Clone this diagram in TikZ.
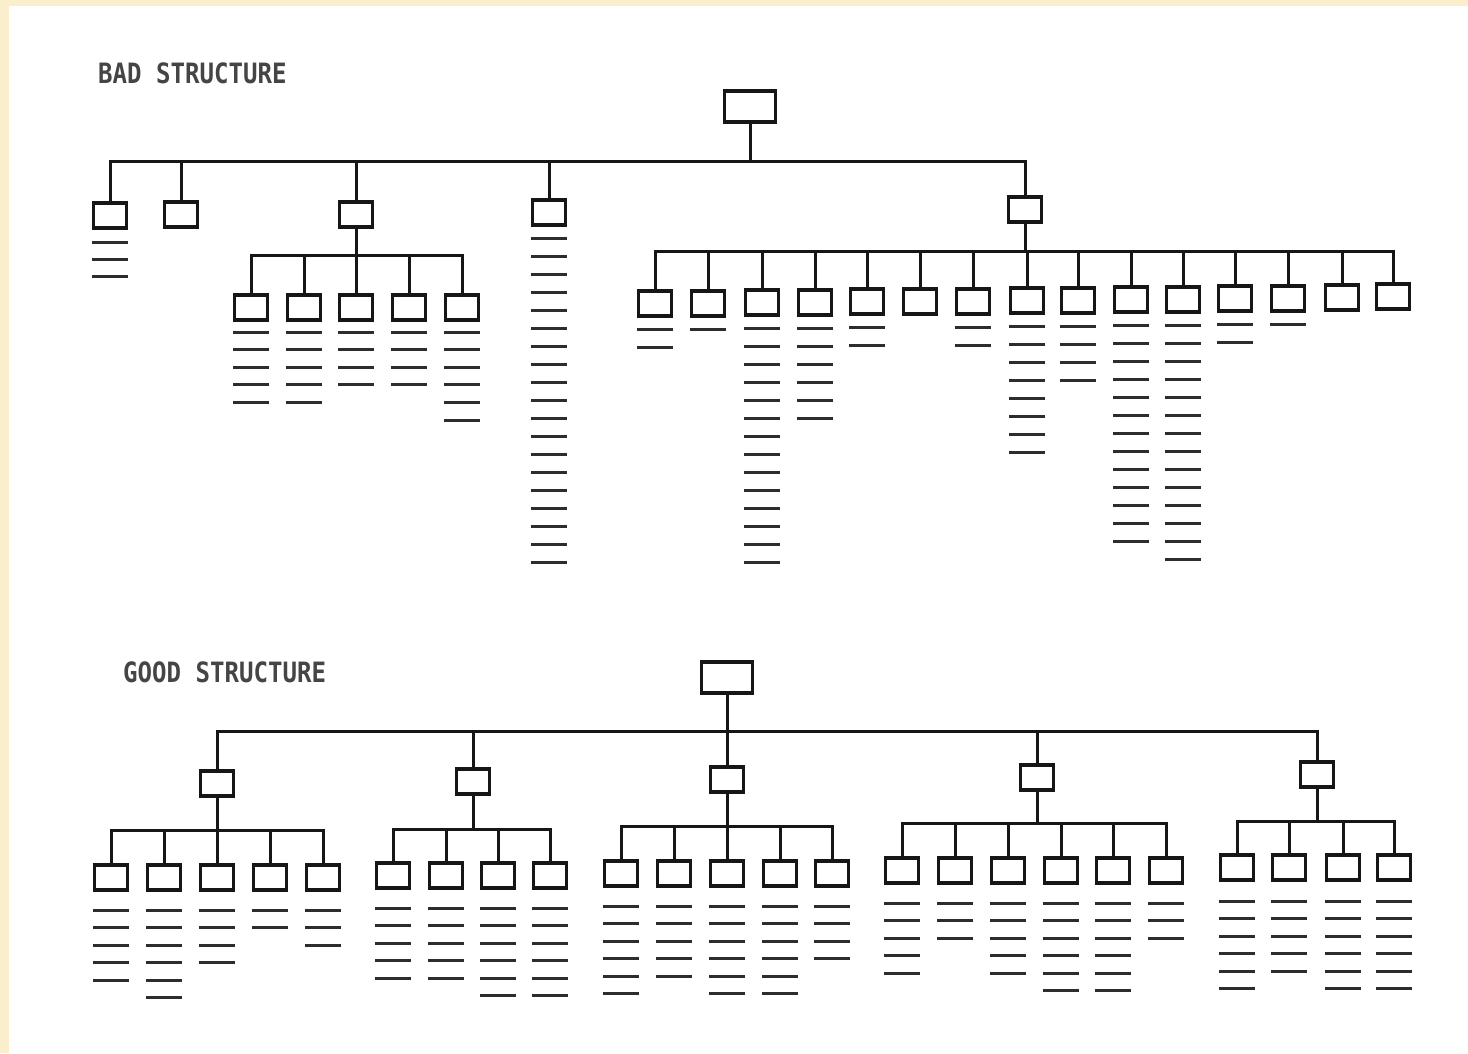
\documentclass[tikz,border=0pt]{standalone}
\usepackage{fontspec}
\setmonofont{DejaVu Sans Mono}
\definecolor{ink}{RGB}{22,22,22}
\definecolor{paperedge}{RGB}{250,238,205}
\newcommand\barstack[4]{%
  \ifnum#3>0 \foreach \k in {1,...,#3}{\draw[bar] ({#1-18},{#2+(\k-1)*#4}) -- ({#1+18},{#2+(\k-1)*#4});}\fi}
\begin{document}
\begin{tikzpicture}[x=1pt,y=-1pt,
  box/.style={draw=ink, line width=3.8pt, minimum width=33pt, minimum height=25pt, inner sep=0pt, outer sep=0pt, anchor=north},
  rootbox/.style={box, minimum width=51pt, minimum height=31pt},
  conn/.style={draw=ink, line width=3pt},
  bar/.style={draw=ink!90, line width=3pt},
  title/.style={font=\ttfamily\bfseries\fontsize{28}{30}\selectfont, text=ink!80, anchor=west, inner sep=0pt, xscale=0.86}
]
\useasboundingbox (0,0) rectangle (1468,1053);
\fill[white] (0,0) rectangle (1468,1053);
\fill[paperedge] (0,0) rectangle (9,1053);
\fill[paperedge] (0,0) rectangle (1468,6);

% ---------------- BAD STRUCTURE ----------------
\node[title] (badlabel) at (98,73) {BAD STRUCTURE};
\node[rootbox] (broot) at (750,91) {};
\coordinate (bbus) at (750,161);
\draw[conn] (broot.south) -- (bbus);
\foreach \nm/\x/\yy in {b1/110/203, b2/181/202, b3/356/202, b4/549/200, b5/1025/197} {
  \node[box] (\nm) at (\x,\yy) {};
  \draw[conn] (bbus) -| (\nm.north);
}
\barstack{110}{242}{3}{17}
\barstack{549}{238}{19}{18.05}

% subtree of b3
\coordinate (b3bus) at (356,255);
\draw[conn] (b3.south) -- (b3bus);
\foreach \x/\nn [count=\i] in {251/5, 304/5, 356/4, 409/4, 462/6} {
  \node[box] (b3c\i) at (\x,295) {};
  \draw[conn] (b3bus) -| (b3c\i.north);
  \barstack{\x}{332}{\nn}{17.6}
}

% subtree of b5
\coordinate (b5bus) at (1025,251);
\draw[conn] (b5.south) -- (b5bus);
\foreach \x/\yy/\nn [count=\i] in {655/291/2, 708/291/1, 762/290/14, 815/290/6, 867/289/2, 920/289/0, 973/289/2, 1027/288/8, 1078/288/4, 1131/287/13, 1183/287/14, 1235/286/2, 1288/286/1, 1342/285/0, 1393/284/0} {
  \node[box] (b5c\i) at (\x,\yy) {};
  \draw[conn] (b5bus) -| (b5c\i.north);
  \barstack{\x}{\yy+38}{\nn}{18}
}

% ---------------- GOOD STRUCTURE ----------------
\node[title] (goodlabel) at (123,672) {GOOD STRUCTURE};
\node[rootbox] (groot) at (727,662) {};
\coordinate (gbus) at (727,731);
\draw[conn] (groot.south) -- (gbus);
\foreach \nm/\x/\yy in {g1/217/771, g2/473/769, g3/727/767, g4/1037/765, g5/1317/762} {
  \node[box] (\nm) at (\x,\yy) {};
  \draw[conn] (gbus) -| (\nm.north);
}

% group 1
\coordinate (g1bus) at (217,830);
\draw[conn] (g1.south) -- (g1bus);
\foreach \x/\nn [count=\i] in {111/5, 164/6, 217/4, 270/2, 323/3} {
  \node[box] (g1c\i) at (\x,865) {};
  \draw[conn] (g1bus) -| (g1c\i.north);
  \barstack{\x}{910}{\nn}{17.5}
}
% group 2
\coordinate (g2bus) at (473,829);
\draw[conn] (g2.south) -- (g2bus);
\foreach \x/\nn [count=\i] in {393/5, 446/5, 498/6, 550/6} {
  \node[box] (g2c\i) at (\x,863) {};
  \draw[conn] (g2bus) -| (g2c\i.north);
  \barstack{\x}{908}{\nn}{17.5}
}
% group 3
\coordinate (g3bus) at (727,826);
\draw[conn] (g3.south) -- (g3bus);
\foreach \x/\nn [count=\i] in {621/6, 674/5, 727/6, 780/6, 832/4} {
  \node[box] (g3c\i) at (\x,861) {};
  \draw[conn] (g3bus) -| (g3c\i.north);
  \barstack{\x}{906}{\nn}{17.5}
}
% group 4
\coordinate (g4bus) at (1037,823);
\draw[conn] (g4.south) -- (g4bus);
\foreach \x/\nn [count=\i] in {902/5, 955/3, 1008/5, 1061/6, 1113/6, 1166/3} {
  \node[box] (g4c\i) at (\x,858) {};
  \draw[conn] (g4bus) -| (g4c\i.north);
  \barstack{\x}{903}{\nn}{17.5}
}
% group 5
\coordinate (g5bus) at (1317,821);
\draw[conn] (g5.south) -- (g5bus);
\foreach \x/\nn [count=\i] in {1237/6, 1289/5, 1343/6, 1394/6} {
  \node[box] (g5c\i) at (\x,855) {};
  \draw[conn] (g5bus) -| (g5c\i.north);
  \barstack{\x}{901}{\nn}{17.5}
}
\end{tikzpicture}
\end{document}
